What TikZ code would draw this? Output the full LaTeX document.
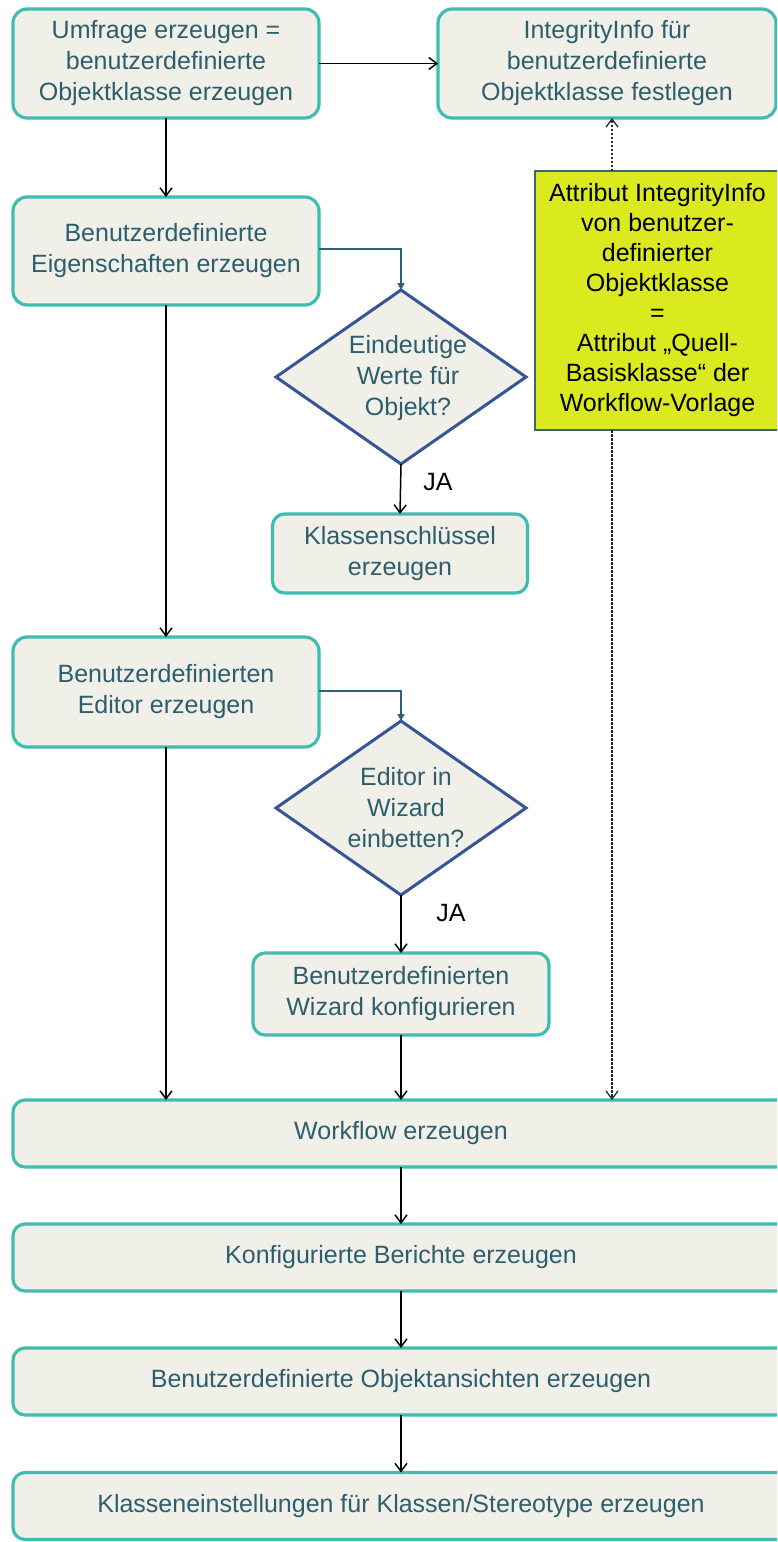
\documentclass[tikz,border=0pt]{standalone}
\usepackage{fontspec}
\setmainfont{Liberation Sans}
\usetikzlibrary{arrows.meta,shapes.geometric}
\definecolor{boxfill}{RGB}{240,239,232}
\definecolor{boxborder}{RGB}{62,189,176}
\definecolor{boxtext}{RGB}{44,94,110}
\definecolor{diaborder}{RGB}{55,84,150}
\definecolor{yelfill}{RGB}{218,234,30}
\definecolor{yelborder}{RGB}{62,100,118}
\definecolor{tealline}{RGB}{44,98,118}
\begin{document}
\begin{tikzpicture}[x=1pt,y=-1pt,
  box/.style={draw=boxborder, line width=3.2pt, fill=boxfill, rounded corners=14pt,
    text=boxtext, align=center, font=\fontsize{25}{31}\selectfont, inner sep=0pt, outer sep=0pt},
  wide/.style={box, rounded corners=12pt, minimum width=776pt, minimum height=67pt},
  dia/.style={diamond, draw=diaborder, line width=3pt, fill=boxfill, inner sep=0pt,
    outer sep=0pt, minimum width=250pt, minimum height=174pt},
  diatext/.style={text=boxtext, align=center, font=\fontsize{25}{31}\selectfont, inner sep=0pt},
  note/.style={draw=yelborder, line width=1.5pt, fill=yelfill, align=center,
    font=\fontsize{25}{30}\selectfont, inner sep=0pt, outer sep=0pt, text=black},
  arr/.style={-{Straight Barb[length=8pt,width=12pt]}, line width=1.5pt, black},
  tarr/.style={-{Triangle[length=7pt,width=7pt]}, line width=1.5pt, tealline},
  dsh/.style={-{Straight Barb[length=8pt,width=12pt]}, line width=1.3pt, black!85,
    dash pattern=on 2.5pt off 1.5pt},
  lbl/.style={font=\fontsize{25}{30}\selectfont, text=black, inner sep=0pt}
]
\useasboundingbox (0,0) rectangle (777,1542);
\clip (0,0) rectangle (777,1542);

% top row
\node[box, minimum width=306pt, minimum height=109pt] (b1) at (166,63.5)
  {Umfrage erzeugen =\\benutzerdefinierte\\Objektklasse erzeugen};
\node[box, minimum width=338pt, minimum height=109pt] (b2) at (607,63.5)
  {IntegrityInfo für\\benutzerdefinierte\\Objektklasse festlegen};

% yellow note
\node[note, minimum width=245pt, minimum height=259pt] (yel) at (657.5,300.5)
  {Attribut IntegrityInfo\\von benutzer-\\definierter\\Objektklasse\\=\\Attribut „Quell-\\Basisklasse“ der\\Workflow-Vorlage};

% second row
\node[box, minimum width=306pt, minimum height=108pt] (b3) at (166,251)
  {Benutzerdefinierte\\Eigenschaften erzeugen};
\node[dia] (d1) at (401,377) {};
\node[diatext] (d1t) at (408,378) {Eindeutige\\Werte für\\Objekt?};
\node[box, rounded corners=12pt, minimum width=255pt, minimum height=79pt] (k1) at (400,553.5)
  {Klassenschlüssel\\erzeugen};

% editor row
\node[box, minimum width=306pt, minimum height=110pt] (b5) at (166,692)
  {Benutzerdefinierten\\Editor erzeugen};
\node[dia] (d2) at (401,808) {};
\node[diatext] (d2t) at (406,808) {Editor in\\Wizard\\einbetten?};
\node[box, rounded corners=12pt, minimum width=296pt, minimum height=82pt] (wiz) at (401,994)
  {Benutzerdefinierten\\Wizard konfigurieren};

% wide boxes
\node[wide] (wf) at (401,1133.5) {Workflow erzeugen};
\node[wide] (rep) at (401,1257.5) {Konfigurierte Berichte erzeugen};
\node[wide] (view) at (401,1381.5) {Benutzerdefinierte Objektansichten erzeugen};
\node[wide] (cls) at (401,1506) {Klasseneinstellungen für Klassen/Stereotype erzeugen};

% labels
\node[lbl] (ja1) at (438,482) {JA};
\node[lbl] (ja2) at (451,913) {JA};

\coordinate (dl) at (612,0);

% connectors
\draw[arr] (b1.east) -- (b2.west);
\draw[arr] (b1.south) -- (b3.north);
\draw[arr] (b3.south) -- (b5.north);
\draw[arr] (b5.south) -- (b5.south |- wf.north);
\draw[tarr] ([yshift=2pt]b3.east) -| (d1.north);
\draw[arr] (d1.south) -- (k1.north);
\draw[tarr] ([yshift=1pt]b5.east) -| (d2.north);
\draw[arr] (d2.south) -- (wiz.north);
\draw[arr] (wiz.south) -- (wiz.south |- wf.north);
\draw[dsh] (yel.north -| dl) -- (b2.south -| dl);
\draw[dsh] (yel.south -| dl) -- (wf.north -| dl);
\draw[arr] (wf.south) -- (rep.north);
\draw[arr] (rep.south) -- (view.north);
\draw[arr] (view.south) -- (cls.north);
\end{tikzpicture}
\end{document}
